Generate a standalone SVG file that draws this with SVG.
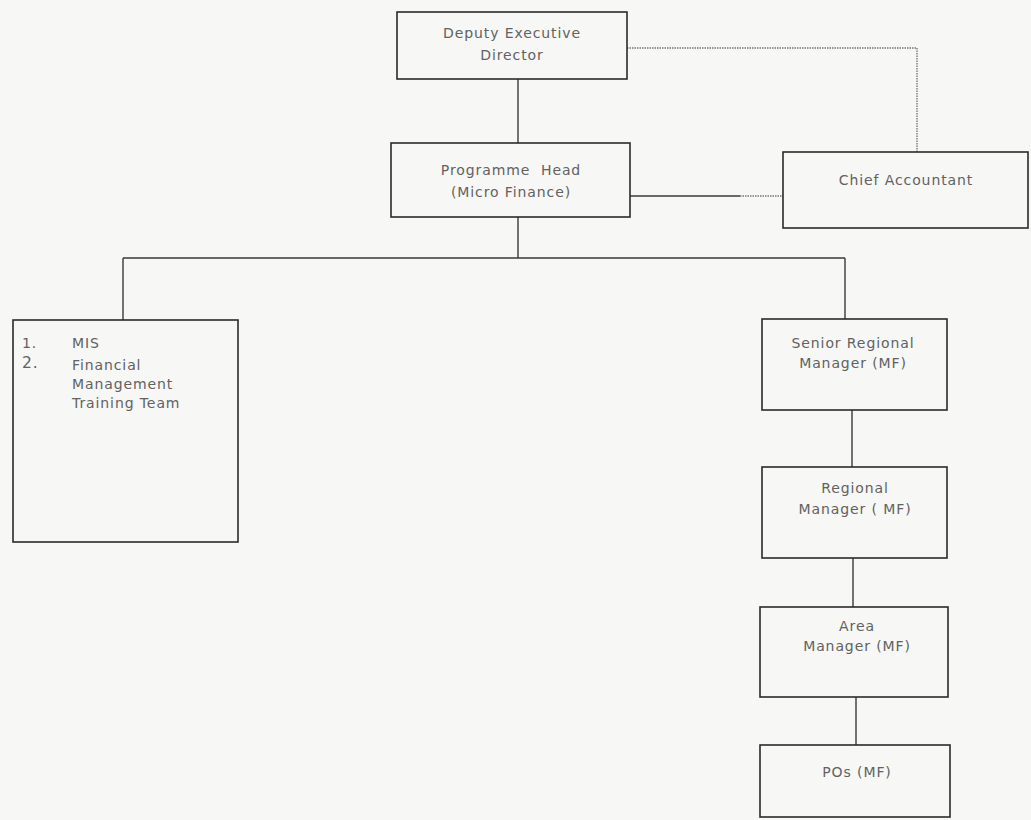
<svg xmlns="http://www.w3.org/2000/svg" width="1031" height="820" viewBox="0 0 1031 820">
<style>
.bx{fill:none;stroke:#2a2a2a;stroke-width:1.6}
.ln{fill:none;stroke:#3a3a3a;stroke-width:1.4}
.dt{fill:none;stroke:#777;stroke-width:1.4;stroke-dasharray:1.5 1}
text{font-family:"DejaVu Sans",sans-serif;font-size:14px;fill:#626262;letter-spacing:0.9px}
.c{text-anchor:middle}
</style>
<rect width="1031" height="820" fill="#f7f7f5"/>
<g id="connectors">
<path class="ln" d="M518 79V143"/>
<path class="dt" d="M627 48H917V152"/>
<path class="ln" d="M630 196H740"/>
<path class="dt" d="M740 196H783"/>
<path class="ln" d="M518 217V258M123 258H845M123 258V320M845 258V319"/>
<path class="ln" d="M852 410V467M853 558V607M856 697V745"/>
</g>
<g id="deputy">
<rect class="bx" x="397" y="12" width="230" height="67"/>
<text class="c" x="512" y="38">Deputy Executive</text>
<text class="c" x="512" y="60">Director</text>
</g>
<g id="programme-head">
<rect class="bx" x="391" y="143" width="239" height="74"/>
<text class="c" x="511" y="175">Programme&#160; Head</text>
<text class="c" x="511" y="197">(Micro Finance)</text>
</g>
<g id="chief-accountant">
<rect class="bx" x="783" y="152" width="245" height="76"/>
<text class="c" x="906" y="185">Chief Accountant</text>
</g>
<g id="mis">
<rect class="bx" x="13" y="320" width="225" height="222"/>
<text x="22" y="348">1.</text>
<text x="72" y="348">MIS</text>
<text x="22" y="368" style="font-size:15.5px">2.</text>
<text x="72" y="370">Financial</text>
<text x="72" y="389">Management</text>
<text x="72" y="408">Training Team</text>
</g>
<g id="senior-regional">
<rect class="bx" x="762" y="319" width="185" height="91"/>
<text class="c" x="853" y="348">Senior Regional</text>
<text class="c" x="853" y="368">Manager (MF)</text>
</g>
<g id="regional">
<rect class="bx" x="762" y="467" width="185" height="91"/>
<text class="c" x="855" y="493">Regional</text>
<text class="c" x="855" y="514">Manager ( MF)</text>
</g>
<g id="area">
<rect class="bx" x="760" y="607" width="188" height="90"/>
<text class="c" x="857" y="631">Area</text>
<text class="c" x="857" y="651">Manager (MF)</text>
</g>
<g id="pos">
<rect class="bx" x="760" y="745" width="190" height="72"/>
<text class="c" x="857" y="777">POs (MF)</text>
</g>
</svg>
